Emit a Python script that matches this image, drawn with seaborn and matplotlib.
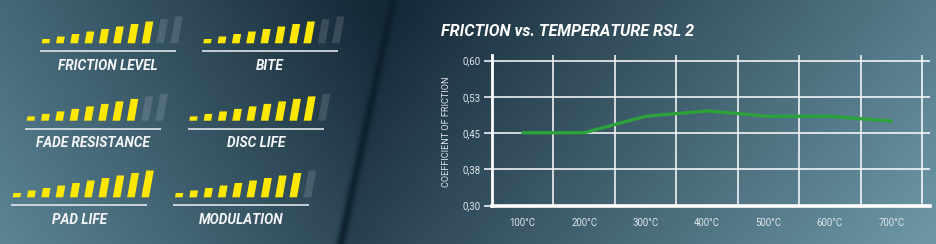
import numpy as np
import pandas as pd
import matplotlib
matplotlib.use("Agg")
import matplotlib.pyplot as plt
from matplotlib.patches import Polygon
import seaborn as sns

# ---------------- data ----------------
gauge_names = ["FRICTION LEVEL", "BITE", "FADE RESISTANCE", "DISC LIFE", "PAD LIFE", "MODULATION"]
gauge_ratings = [8, 8, 8, 9, 10, 9]
gauge_max = 10

temps = ["100°C", "200°C", "300°C", "400°C", "500°C", "600°C", "700°C"]
friction = [0.451, 0.451, 0.485, 0.496, 0.485, 0.485, 0.475]
y_ticks = [0.30, 0.375, 0.45, 0.525, 0.60]
y_tick_labels = ["0,30", "0,38", "0,45", "0,53", "0,60"]

title = "FRICTION vs. TEMPERATURE RSL 2"
y_label = "COEFFICIENT OF FRICTION"

# ---------------- style ----------------
sns.set_theme(style="white")
plt.rcParams["font.family"] = ["Roboto", "DejaVu Sans"]

W, H = 937, 244
fig = plt.figure(figsize=(W / 100, H / 100), dpi=100)

# background gradient
bg = fig.add_axes([0, 0, 1, 1], zorder=-10)
yy, xx = np.mgrid[0:H, 0:W].astype(float)
light_l = np.array([92, 133, 150]) / 255
dark_l = np.array([22, 42, 56]) / 255
tl = 1 - (0.72 * xx / 380 + 0.32 * (1 - yy / H))
tl = np.clip(tl, 0, 1)[..., None]
left_img = dark_l + tl * (light_l - dark_l)
dark_r = np.array([20, 40, 55]) / 255
light_r = np.array([108, 150, 165]) / 255
tr = np.clip(0.75 * (xx - 390) / 547 + 0.28 * yy / H, 0, 1)[..., None]
right_img = dark_r + tr * (light_r - dark_r)
boundary = 393 - 53 * (yy / H)
img = np.where((xx < boundary)[..., None], left_img, right_img)
stripe = np.exp(-((xx - boundary) / 4.5) ** 2)[..., None]
stripe_col = np.array([12, 30, 42]) / 255
img = img * (1 - 0.85 * stripe) + stripe_col * 0.85 * stripe
bg.imshow(img, extent=(0, W, H, 0), aspect="auto", interpolation="bilinear")
bg.set_xlim(0, W)
bg.set_ylim(H, 0)
bg.axis("off")

# ---------------- gauges ----------------
# (x of first bar, baseline y) in pixels
gauge_pos = [(41.7, 43.3), (203.3, 43.3), (26.7, 120.7), (189.3, 120.7), (12.7, 197.3), (175.0, 197.3)]
pitch, bw, skew = 14.3, 7.6, 0.18
yellow = "#ffe800"
grey = (1, 1, 1, 0.13)
for name, rating, (gx, gy) in zip(gauge_names, gauge_ratings, gauge_pos):
    ax = fig.add_axes([(gx - 3) / W, (H - (gy + 28)) / H, 150 / W, 58 / H])
    ax.set_xlim(-3, 147)
    ax.set_ylim(-28, 30)
    ax.axis("off")
    for i in range(gauge_max):
        h = 4.3 + 2.5 * i
        x0 = i * pitch
        s = skew * h
        poly = Polygon([(x0, 0), (x0 + bw, 0), (x0 + bw + s, h), (x0 + s, h)],
                       closed=True, facecolor=yellow if i < rating else grey,
                       edgecolor="none")
        ax.add_patch(poly)
    ax.plot([-1.5, 134.5], [-8, -8], color="#dfe6ea", lw=1.2, solid_capstyle="butt")
    ax.text(66.5, -22.2, name, ha="center", va="center", color="#f4f6f7",
            fontsize=9.8, fontweight="bold", fontstyle="italic")

# ---------------- line chart ----------------
axl = fig.add_axes([492 / W, 38.3 / H, (930 - 492) / W, (189 - 38.3) / H])
axl.patch.set_alpha(0)
df = pd.DataFrame({"pos": np.arange(len(temps)), "friction": friction})
sns.lineplot(data=df, x="pos", y="friction", ax=axl, color="#2ba23a", lw=2.4, zorder=5)
band = (922 - 492) / 7
axl.set_xlim(-0.5, 6.5 + 8 / band)
axl.set_ylim(0.30, 0.60 + 5.7 / 145 * 0.30)
axl.set_xticks(np.arange(len(temps)))
axl.set_xticklabels(temps)
axl.set_xticks(np.arange(len(temps) + 1) - 0.5, minor=True)
axl.set_yticks(y_ticks)
axl.set_yticklabels(y_tick_labels)
axl.tick_params(axis="x", which="major", length=0, pad=9, labelsize=6.9, labelcolor="#dfe6ea")
axl.tick_params(axis="x", which="minor", length=5.5, width=1.1, color="white", direction="out")
axl.tick_params(axis="y", which="major", length=6, width=1.1, color="white", pad=2,
                labelsize=6.9, labelcolor="#dfe6ea", left=True)
axl.grid(False)
for xv in np.arange(len(temps) + 1) - 0.5:
    axl.axvline(xv, color="white", lw=1.1, zorder=2)
for yv in y_ticks:
    axl.axhline(yv, color="white", lw=1.1, zorder=2)
for side in ["top", "right"]:
    axl.spines[side].set_visible(False)
axl.spines["left"].set_color("white")
axl.spines["left"].set_linewidth(2.0)
axl.spines["bottom"].set_color("white")
axl.spines["bottom"].set_linewidth(2.6)
axl.set_xlabel("")
axl.set_ylabel("")

fig.text(447 / W, 1 - 132 / H, y_label, rotation=90, ha="center", va="center",
         color="#dfe6ea", fontsize=6.6)
fig.text(441 / W, 1 - 31 / H, title, ha="left", va="center", color="white",
         fontsize=11.6, fontweight="bold", fontstyle="italic")

fig.savefig("out.png", dpi=100)
